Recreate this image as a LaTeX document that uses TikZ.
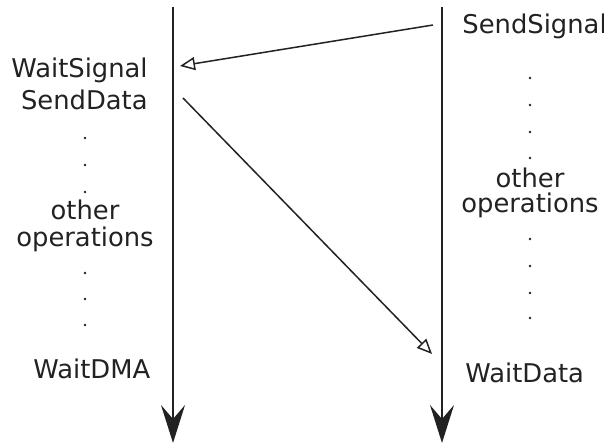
\documentclass[tikz,border=0pt]{standalone}
\usepackage{fontspec}
\setmainfont{DejaVu Sans}
\usepackage{xcolor}
\definecolor{ink}{HTML}{222222}
\usetikzlibrary{
  arrows.meta,
  positioning
}

\begin{document}
\begin{tikzpicture}[
    x=0.5pt, y=-0.5pt,
    timeline/.style={
      line width=1pt,
      draw=ink,
      -{Stealth[length=19pt,width=12pt,inset=7pt]}
    },
    msg/.style={
      line width=0.75pt,
      draw=ink,
      -{Triangle[open,length=7.5pt,width=6.5pt]}
    },
    op/.style={
      inner sep=0pt,
      font=\fontsize{12.9}{15}\selectfont,
      text=ink
    },
    gap/.style={
      fill=ink
    }
  ]
    \useasboundingbox (0,0) rectangle (604,443);

    % timelines
    \coordinate (left-top)  at (173,7);
    \coordinate (left-end)  at (173,443);
    \coordinate (right-top) at (442,7);
    \coordinate (right-end) at (442,443);
    \draw[timeline] (left-top)  -- (left-end);
    \draw[timeline] (right-top) -- (right-end);

    % operations on the left
    \node[op, anchor=base east] (waitsig)  at (148,78)  {WaitSignal};
    \node[op, anchor=base east] (senddata) at (148,110) {SendData};
    \node[op, anchor=base]      (lother)   at (85,220)  {other};
    \node[op, anchor=base]      (lops)     at (85,246)  {operations};
    \node[op, anchor=base west] (waitdma)  at (33,378)  {WaitDMA};

    % operations on the right
    \node[op, anchor=base west] (sendsig)  at (462,34)  {SendSignal};
    \node[op, anchor=base]      (rother)   at (530,188) {other};
    \node[op, anchor=base]      (rops)     at (530,213) {operations};
    \node[op, anchor=base west] (waitdata) at (465,382) {WaitData};

    % dots
    \foreach \y in {138,165,192,273,299,325}
      \fill[gap] (85,\y) circle (0.7pt);
    \foreach \y in {78,105,132,158,239,266,293,318}
      \fill[gap] (530,\y) circle (0.7pt);

    % signal: right -> left
    \coordinate (sig-out)  at (433,25);
    \coordinate (sig-in)   at (180,66);
    \draw[msg] (sig-out) -- (sig-in);
    % data: left -> right
    \coordinate (data-out) at (183,98);
    \coordinate (data-in)  at (432,354);
    \draw[msg] (data-out) -- (data-in);
  \end{tikzpicture}
\end{document}
